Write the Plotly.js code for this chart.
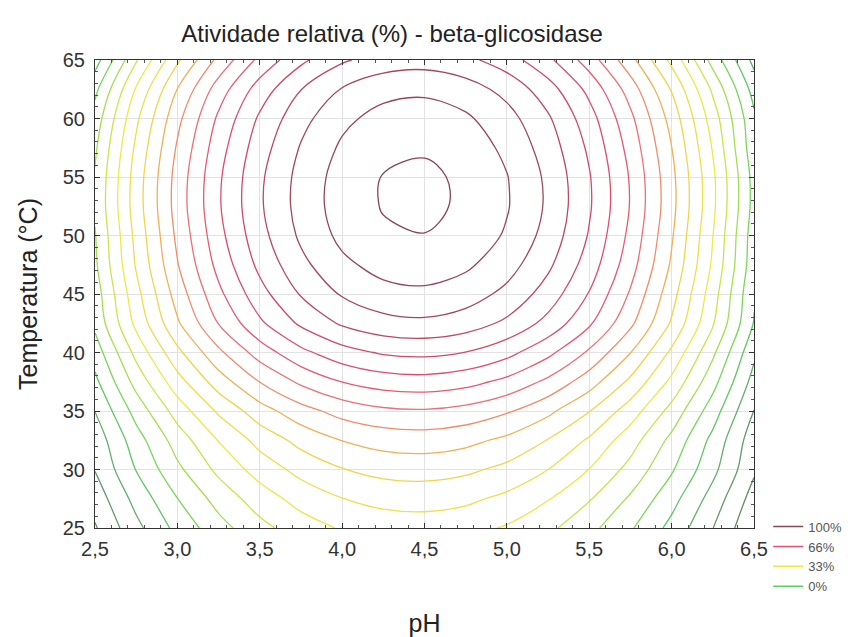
<!DOCTYPE html>
<html>
<head>
<meta charset="utf-8">
<script src="https://cdn.plot.ly/plotly-3.0.1.min.js"></script>
<style>
  html, body { margin: 0; padding: 0; background: #ffffff; }
  #chart { width: 858px; height: 637px; }
</style>
</head>
<body>
<div id="chart"></div>
<script>
// pH grid (x)
const pH = [2.5, 2.75, 3.0, 3.25, 3.5, 3.75, 4.0, 4.25, 4.5, 4.75, 5.0, 5.25, 5.5, 5.75, 6.0, 6.25, 6.5];
// Temperature grid (y, °C)
const temperatura = [25, 27.5, 30, 32.5, 35, 37.5, 40, 42.5, 45, 47.5, 50, 52.5, 55, 57.5, 60, 62.5, 65];
// Relative activity (%), one row per temperature
const atividade = [
  [4.5, 13.6, 21.5, 28.1, 33.5, 37.6, 40.5, 42.1, 42.5, 41.6, 39.5, 36.1, 31.5, 25.6, 18.5, 10.1, 0.5],
  [7.1, 16.7, 24.9, 31.9, 37.5, 41.9, 44.9, 46.6, 47.0, 46.1, 43.8, 40.3, 35.4, 29.3, 21.8, 13.0, 2.9],
  [10.2, 20.2, 28.9, 36.2, 42.1, 46.6, 49.8, 51.6, 52.0, 51.0, 48.7, 45.0, 39.9, 33.4, 25.6, 16.4, 5.8],
  [11.9, 22.8, 32.3, 40.2, 46.7, 51.6, 55.1, 57.0, 57.5, 56.4, 53.9, 49.8, 44.3, 37.2, 28.7, 18.6, 7.1],
  [15.1, 26.9, 37.2, 45.8, 52.8, 58.1, 61.9, 64.0, 64.5, 63.3, 60.6, 56.2, 50.2, 42.5, 33.3, 22.4, 9.9],
  [18.8, 31.8, 43.0, 52.5, 60.1, 66.0, 70.1, 72.4, 73.0, 71.7, 68.7, 63.9, 57.3, 48.9, 38.8, 26.8, 13.1],
  [22.3, 36.5, 48.7, 58.9, 67.3, 73.7, 78.1, 80.6, 81.2, 79.9, 76.6, 71.3, 64.2, 55.1, 44.0, 31.0, 16.1],
  [26.3, 41.3, 54.3, 65.2, 74.1, 80.9, 85.7, 88.3, 89.0, 87.5, 84.0, 78.4, 70.8, 61.1, 49.4, 35.5, 19.7],
  [27.5, 43.4, 57.2, 68.8, 78.2, 85.4, 90.5, 93.3, 94.0, 92.4, 88.7, 82.8, 74.7, 64.4, 52.0, 37.3, 20.5],
  [29.1, 45.5, 59.7, 71.6, 81.3, 88.7, 93.9, 96.8, 97.5, 95.9, 92.1, 86.0, 77.7, 67.1, 54.3, 39.2, 21.9],
  [29.7, 46.5, 61.1, 73.4, 83.3, 90.9, 96.3, 99.3, 99.9, 98.3, 94.4, 88.2, 79.6, 68.7, 55.6, 40.1, 22.3],
  [30.7, 47.5, 62.1, 74.4, 84.3, 91.9, 97.3, 100.3, 101.0, 99.3, 95.4, 89.2, 80.6, 69.7, 56.6, 41.1, 23.3],
  [30.4, 47.3, 61.9, 74.2, 84.1, 91.7, 97.1, 100.2, 100.9, 99.2, 95.2, 89.0, 80.4, 69.5, 56.4, 41.0, 23.2],
  [29.2, 46.0, 60.6, 72.9, 82.8, 90.4, 95.8, 98.8, 99.5, 97.8, 93.9, 87.7, 79.1, 68.2, 55.1, 39.6, 21.8],
  [27.2, 44.0, 58.6, 70.9, 80.8, 88.4, 93.8, 96.8, 97.5, 95.8, 91.9, 85.7, 77.1, 66.2, 53.1, 37.6, 21.0],
  [23.7, 40.5, 55.1, 67.4, 77.3, 84.9, 90.3, 93.3, 94.0, 92.3, 88.4, 82.2, 73.6, 62.7, 49.6, 34.1, 18.0],
  [17.7, 34.5, 49.1, 61.4, 71.3, 78.9, 84.3, 87.3, 88.0, 86.3, 82.4, 76.2, 67.6, 56.7, 43.6, 28.1, 13.5]
];
// Legend entries
const legendLabels = ['100%', '66%', '33%', '0%'];
const legendColors = ['#8a4456', '#e4506e', '#ece848', '#5ccf5e'];

const colorscale = [
  [0.00, '#5e7866'],
  [0.12, '#67a072'],
  [0.22, '#5ccf5e'],
  [0.32, '#b6e24c'],
  [0.40, '#ece848'],
  [0.50, '#f0d44a'],
  [0.57, '#f2a05a'],
  [0.63, '#ef7878'],
  [0.72, '#e4506e'],
  [0.82, '#c94a66'],
  [0.90, '#a0485c'],
  [1.00, '#884456']
];

const FONT = 'Liberation Sans, Arial, sans-serif';

const traces = [{
  type: 'contour',
  x: pH,
  y: temperatura,
  z: atividade,
  zauto: false,
  zmin: 0,
  zmax: 100,
  colorscale: colorscale,
  showscale: false,
  showlegend: false,
  hoverinfo: 'x+y+z',
  contours: { coloring: 'lines', start: 0, end: 100, size: 5, showlabels: false },
  line: { width: 1.3, smoothing: 1 }
}];

legendLabels.forEach((lab, i) => {
  traces.push({
    type: 'scatter',
    mode: 'lines',
    x: [null], y: [null],
    name: lab,
    line: { color: legendColors[i], width: 1.5 },
    showlegend: true,
    hoverinfo: 'skip'
  });
});

const axisCommon = {
  showline: true,
  linecolor: '#333',
  linewidth: 1,
  mirror: 'allticks',
  ticks: 'inside',
  ticklen: 5,
  tickcolor: '#333',
  showgrid: true,
  gridcolor: '#e2e2e2',
  gridwidth: 1,
  zeroline: false,
  tickfont: { family: FONT, size: 20, color: '#333' },
  fixedrange: true
};

const layout = {
  width: 858,
  height: 637,
  margin: { l: 95, r: 103, t: 60, b: 109 },
  paper_bgcolor: '#ffffff',
  plot_bgcolor: '#ffffff',
  separators: ',.',
  font: { family: FONT, color: '#333' },
  title: {
    text: 'Atividade relativa (%) - beta-glicosidase',
    font: { family: FONT, size: 24, color: '#222' },
    xref: 'container', yref: 'container',
    x: 0.457, y: 0.948, xanchor: 'center', yanchor: 'middle'
  },
  xaxis: Object.assign({}, axisCommon, {
    range: [2.5, 6.5],
    tick0: 2.5, dtick: 0.5,
    tickformat: '.1f',
    ticklabelstandoff: 3,
    minor: { dtick: 0.1, ticks: 'inside', ticklen: 3, tickcolor: '#555', showgrid: false },
    title: { text: 'pH', font: { family: FONT, size: 25, color: '#222' }, standoff: 56 }
  }),
  yaxis: Object.assign({}, axisCommon, {
    range: [25, 65],
    tick0: 25, dtick: 5,
    ticklabelstandoff: 5,
    minor: { dtick: 1, ticks: 'inside', ticklen: 3, tickcolor: '#555', showgrid: false },
    title: { text: 'Temperatura (°C)', font: { family: FONT, size: 25, color: '#222' }, standoff: 18 }
  }),
  legend: {
    x: 1.02, xanchor: 'left',
    y: 0.035, yanchor: 'top',
    bgcolor: 'rgba(0,0,0,0)',
    borderwidth: 0,
    itemwidth: 30,
    tracegroupgap: 0,
    font: { family: FONT, size: 13, color: '#555' }
  },
  showlegend: true
};

Plotly.newPlot('chart', traces, layout, { displayModeBar: false, staticPlot: true });
</script>
</body>
</html>
